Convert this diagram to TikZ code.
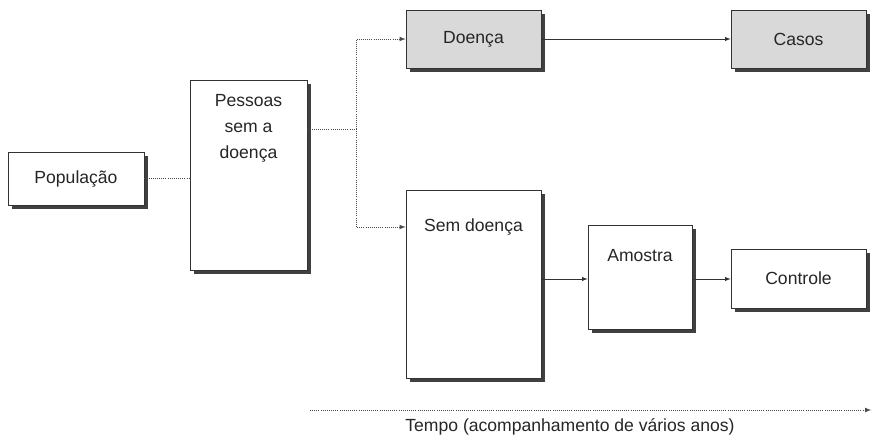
\documentclass[tikz,border=0pt]{standalone}
\usepackage{fontspec}
\setmainfont{Liberation Sans}
\usetikzlibrary{arrows,shadows}

\tikzset{
  box/.style={draw=black!80, fill=white, line width=0.5pt, rectangle,
    drop shadow={shadow xshift=0.09cm, shadow yshift=-0.09cm, fill=black!75, opacity=1}},
  sick/.style={box, fill=black!15},
  txt/.style={font=\fontsize{12.5}{18.5}\selectfont, text=black!85},
  lnk/.style={draw=black!70, line width=0.5pt, densely dotted}
}

\begin{document}
\begin{tikzpicture}[>= latex, txt]
\useasboundingbox (0,0) rectangle (21.8,-10.925);
%
\draw (1.9,-4.4625) node[box, minimum width=3.4cm, minimum height=1.325cm] (pop) {População};
%
\draw (6.2125,-4.375) node[box, minimum width=2.925cm, minimum height=4.75cm,
  label={[txt, align=center, anchor=north, yshift=-0.25cm]north:Pessoas\\sem a\\doença}] (pess) {};
\path[lnk] (pop.east) -- (pop.east -| pess.west);
%
\draw (11.8375,-0.975) node[sick, minimum width=3.375cm, minimum height=1.45cm] (doe) {Doença};
\draw (19.9625,-0.975) node[sick, minimum width=3.375cm, minimum height=1.45cm] (casos) {Casos};
\path[draw, ->, black!80] (doe) -- (casos);
%
\draw (11.8375,-7.1) node[box, minimum width=3.375cm, minimum height=4.7cm,
  label={[txt, anchor=north, yshift=-0.6cm]north:Sem doença}] (semd) {};
\coordinate (split) at (8.9,-3.225);
\path[lnk] (pess.east |- split) -- (split);
\path[lnk, ->] (split) |- (doe.west);
\path[lnk, ->] (split) |- (semd.west |- 0,-5.675);
%
\draw (16,-6.925) node[box, minimum width=2.6cm, minimum height=2.6cm,
  label={[txt, anchor=north, yshift=-0.5cm]north:Amostra}] (amo) {};
\draw (19.9625,-6.9625) node[box, minimum width=3.375cm, minimum height=1.475cm] (ctrl) {Controle};
\path[draw, ->, black!80] (semd.east |- 0,-6.975) -- (amo.west |- 0,-6.975);
\path[draw, ->, black!80] (amo.east |- 0,-6.975) -- (ctrl.west |- 0,-6.975);
%
\coordinate (t0) at (7.75,-10.25);
\coordinate (t1) at (21.78,-10.25);
\path[lnk, ->] (t0) -- (t1);
\draw (14.25,-10.675) node (tempo) {Tempo (acompanhamento de vários anos)};
\end{tikzpicture}
\end{document}
